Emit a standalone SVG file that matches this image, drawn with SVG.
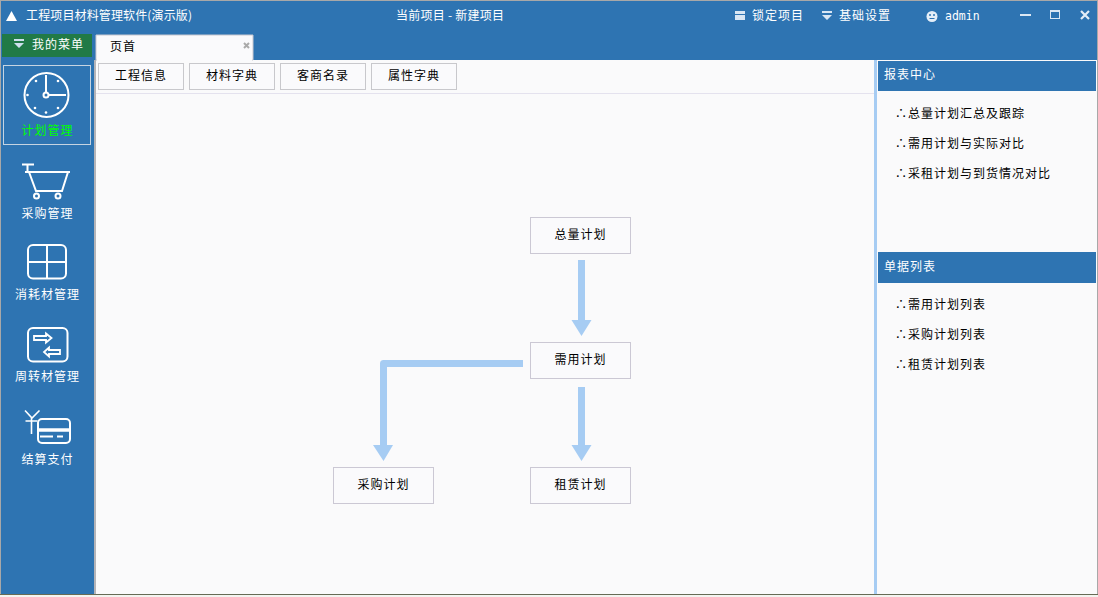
<svg xmlns="http://www.w3.org/2000/svg" width="1098" height="597" viewBox="0 0 1098 597">
<style>
text{font-family:"Noto Sans CJK SC","Liberation Sans",sans-serif;font-size:12px;letter-spacing:1px}
.w{fill:#fff}.k{fill:#000}.m{text-anchor:middle}
.ic{fill:none;stroke:#fff;stroke-width:2}
.btn{fill:#fafafc;stroke:#c8c8cc}
.node{fill:#fafafc;stroke:#cbc8d4}
.conn{fill:none;stroke:#a6ccf3;stroke-width:7}
.hd{fill:#a6ccf3}
</style>
<rect width="1098" height="597" fill="#a8a8a8"/>
<rect x="1" y="1" width="1096" height="593" fill="#2e74b2"/>
<rect x="96" y="60" width="1001" height="534" fill="#fafafb"/>
<rect x="94" y="60" width="2" height="534" fill="#b4b4b8"/>
<rect x="874" y="60" width="3" height="534" fill="#a6ccf3"/>
<rect x="96" y="93" width="778" height="1" fill="#e4e2ee"/>
<rect x="0" y="594" width="1098" height="1" fill="#666b55"/>
<rect x="0" y="595" width="1098" height="2" fill="#f4f4f0"/>
<g id="titlebar">
<path d="M6 21 L11.500 11 L17 21Z" fill="#fff"/>
<text x="26" y="20" class="w" style="letter-spacing:0" textLength="166">工程项目材料管理软件(演示版)</text>
<text x="396" y="20" class="w" style="letter-spacing:0" textLength="108">当前项目 - 新建项目</text>
<rect x="735" y="11" width="10" height="9" fill="#d8e6f4"/><rect x="735" y="14" width="10" height="1" fill="#2e74b2"/>
<text x="752" y="20" class="w">锁定项目</text>
<path d="M822 11h10v2h-10zM822 15h10l-5 5z" fill="#d8e6f4"/>
<text x="839" y="20" class="w">基础设置</text>
<circle cx="932" cy="16.500" r="5.500" fill="#e4eef8"/><circle cx="930" cy="15" r="1" fill="#2e74b2"/><circle cx="934" cy="15" r="1" fill="#2e74b2"/><path d="M929.500 18.500h5" stroke="#2e74b2"/>
<text x="945" y="20" style="font-family:'DejaVu Sans Mono',monospace;font-size:11.500px;letter-spacing:0" class="w">admin</text>
<rect x="1020" y="14" width="11" height="2" fill="#dce8f4"/>
<rect x="1050.500" y="10.500" width="9" height="8" fill="none" stroke="#dce8f4"/><rect x="1050" y="10" width="10" height="2" fill="#dce8f4"/>
<path d="M1081 11l8 8M1089 11l-8 8" stroke="#e4eef8" stroke-width="2.200" fill="none"/>
</g>
<g id="menu-button">
<rect x="2" y="34" width="90" height="23" fill="#217a46"/>
<path d="M14 39h10v2h-10zM14 43h10l-5 5z" fill="#cfe0ee"/>
<text x="32" y="49" class="w">我的菜单</text>
</g>
<g id="tab">
<path d="M96 60V35H253V60Z" fill="#fafafc" stroke="#c8c8d0"/>
<rect x="97" y="58" width="155" height="3" fill="#fafafc"/>
<text x="110" y="51" class="k">页首</text>
<path d="M244 43l5 5M249 43l-5 5" stroke="#aaa" stroke-width="2" fill="none"/>
</g>
<g id="side-plan">
<rect x="3.500" y="65.500" width="87" height="79" fill="none" stroke="#c5d4e2"/>
<circle cx="46.500" cy="95" r="22" class="ic"/>
<path d="M46 75V92M49 95H66" class="ic"/><circle cx="46" cy="95" r="2.500" class="ic"/>
<g fill="#fff"><circle cx="58" cy="81" r="1.300"/><circle cx="36" cy="81" r="1.300"/><circle cx="27.500" cy="95" r="1.300"/><circle cx="35" cy="108" r="1.300"/><circle cx="46" cy="112.500" r="1.300"/><circle cx="58" cy="108" r="1.300"/></g>
<text x="47.500" y="135" class="m" style="fill:#0f0">计划管理</text>
</g>
<g id="side-purchase">
<path d="M22 164.500H34M27.500 165V172M25 172H70M29 172L36 191H62L68 172" class="ic"/>
<circle cx="36.500" cy="196" r="2.500" class="ic"/><circle cx="58" cy="196" r="2.500" class="ic"/>
<text x="47.500" y="218" class="m w">采购管理</text>
</g>
<g id="side-consume">
<rect x="28" y="245" width="38" height="33.500" rx="5" class="ic"/>
<path d="M47 245V278M28 262H66" class="ic"/>
<text x="47.500" y="299" class="m w">消耗材管理</text>
</g>
<g id="side-turnover">
<rect x="28" y="328" width="39.500" height="33.500" rx="5" class="ic"/>
<path d="M34 336H46V333.500L51.500 338L46 342.500V340H34ZM60 350H49V347.500L44 352L49 356.500V354H60Z" fill="none" stroke="#fff" stroke-width="1.800"/>
<text x="47.500" y="381" class="m w">周转材管理</text>
</g>
<g id="side-pay">
<path d="M25 410.500L32 418L39.500 410.500M25.500 421H37.500M31.500 418V434" fill="none" stroke="#fff" stroke-width="1.600"/>
<rect x="38" y="419" width="32" height="24" rx="4" class="ic"/>
<path d="M38 430H70" stroke="#fff" stroke-width="3.500"/>
<path d="M40 436.500H53M57 436.500H63" class="ic"/>
<text x="47.500" y="464" class="m w">结算支付</text>
</g>
<g id="toolbar">
<rect x="98.500" y="63.500" width="85" height="26" class="btn"/><text x="141" y="80" class="m k">工程信息</text>
<rect x="189.500" y="63.500" width="85" height="26" class="btn"/><text x="232" y="80" class="m k">材料字典</text>
<rect x="280.500" y="63.500" width="85" height="26" class="btn"/><text x="323" y="80" class="m k">客商名录</text>
<rect x="371.500" y="63.500" width="85" height="26" class="btn"/><text x="414" y="80" class="m k">属性字典</text>
</g>
<g id="connectors">
<path d="M581.500 260V322" class="conn"/><path d="M571.500 320H591.500L581.500 336Z" class="hd"/>
<path d="M581.500 387V447" class="conn"/><path d="M571.500 445H591.500L581.500 461Z" class="hd"/>
<path d="M523 363.500H383.500V447" class="conn" stroke-linejoin="round"/><path d="M373 445H393L383.500 461Z" class="hd"/>
</g>
<g id="node-total"><rect x="530.500" y="217.500" width="100" height="36" class="node"/><text x="580.500" y="239" class="m k">总量计划</text></g>
<g id="node-demand"><rect x="530.500" y="342.500" width="100" height="36" class="node"/><text x="580.500" y="364" class="m k">需用计划</text></g>
<g id="node-purchase"><rect x="333.500" y="467.500" width="100" height="36" class="node"/><text x="383.500" y="489" class="m k">采购计划</text></g>
<g id="node-lease"><rect x="530.500" y="467.500" width="100" height="36" class="node"/><text x="580.500" y="489" class="m k">租赁计划</text></g>
<g id="report-panel">
<rect x="878" y="61" width="218" height="30" fill="#2e74b2"/>
<text x="884" y="79" class="w">报表中心</text>
<text x="895" y="118" class="k">∴总量计划汇总及跟踪</text>
<text x="895" y="148" class="k">∴需用计划与实际对比</text>
<text x="895" y="178" class="k">∴采租计划与到货情况对比</text>
</g>
<g id="list-panel">
<rect x="878" y="252" width="218" height="31" fill="#2e74b2"/>
<text x="884" y="271" class="w">单据列表</text>
<text x="895" y="309" class="k">∴需用计划列表</text>
<text x="895" y="339" class="k">∴采购计划列表</text>
<text x="895" y="369" class="k">∴租赁计划列表</text>
</g>
</svg>
